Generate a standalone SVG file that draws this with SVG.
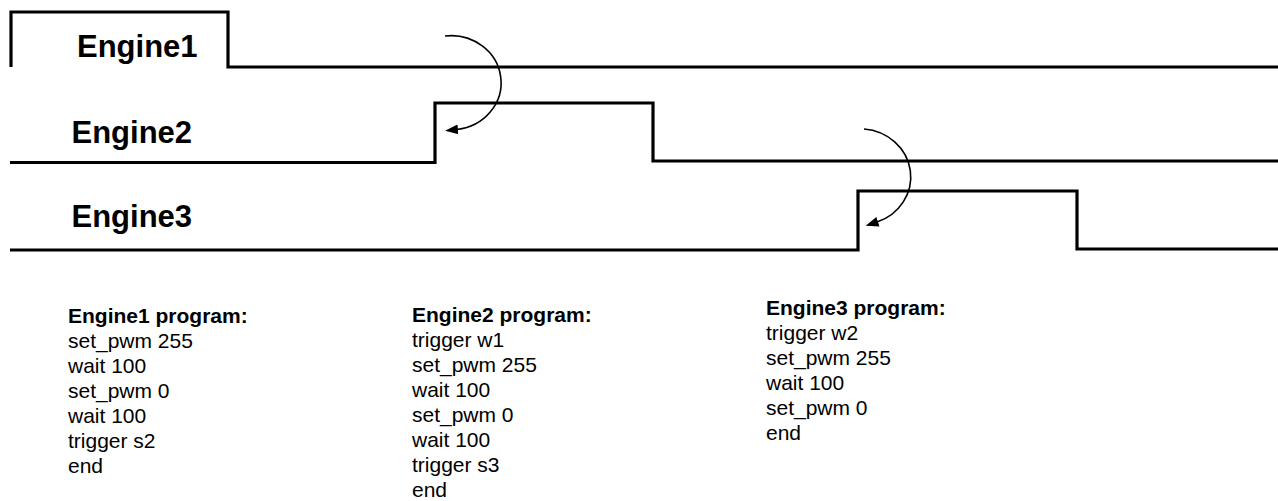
<svg xmlns="http://www.w3.org/2000/svg" width="1278" height="501" viewBox="0 0 1278 501">
  <style>
    .wave { fill: none; stroke: #000; stroke-width: 3.2; stroke-linejoin: miter; }
    .label { font-family: "Liberation Sans", Arial, sans-serif; font-weight: bold; font-size: 31px; fill: #000; }
    .prog { font-family: "Liberation Sans", Arial, sans-serif; font-size: 21px; fill: #000; }
    .prog .hd { font-weight: bold; }
    .conn { fill: none; stroke: #000; stroke-width: 1.6; }
  </style>
  <defs>
    <marker id="arrow" markerUnits="userSpaceOnUse" markerWidth="14" markerHeight="12" refX="1" refY="6" orient="auto" viewBox="0 0 14 12">
      <path d="M0,1 L13,6 L0,11 z" fill="#000"/>
    </marker>
  </defs>
  <rect width="1278" height="501" fill="#fff"/>

  <g id="engine1">
    <path class="wave" d="M11,67 V12 H228 V67 H1278"/>
    <text class="label" x="77" y="57.3" font-size="30.5">Engine1</text>
  </g>
  <g id="engine2">
    <path class="wave" d="M10,162.5 H435 V103 H653 V161 H1278"/>
    <text class="label" x="71.5" y="143.3">Engine2</text>
  </g>
  <g id="engine3">
    <path class="wave" d="M10,250 H858 V191 H1077 V249 H1278"/>
    <text class="label" x="71.5" y="226.7">Engine3</text>
  </g>

  <g id="connectors">
    <path class="conn" d="M445,36 A50,47 0 0 1 457,129.5" marker-end="url(#arrow)"/>
    <path class="conn" d="M864,129 A51,48 0 0 1 877,222" marker-end="url(#arrow)"/>
  </g>

  <g id="program1" class="prog">
    <text class="hd" x="68" y="323">Engine1 program:</text>
    <text x="68" y="348">set_pwm 255</text>
    <text x="68" y="373">wait 100</text>
    <text x="68" y="398">set_pwm 0</text>
    <text x="68" y="423">wait 100</text>
    <text x="68" y="448">trigger s2</text>
    <text x="68" y="473">end</text>
  </g>
  <g id="program2" class="prog">
    <text class="hd" x="412" y="322">Engine2 program:</text>
    <text x="412" y="347">trigger w1</text>
    <text x="412" y="372">set_pwm 255</text>
    <text x="412" y="397">wait 100</text>
    <text x="412" y="422">set_pwm 0</text>
    <text x="412" y="447">wait 100</text>
    <text x="412" y="472">trigger s3</text>
    <text x="412" y="497">end</text>
  </g>
  <g id="program3" class="prog">
    <text class="hd" x="766" y="315">Engine3 program:</text>
    <text x="766" y="340">trigger w2</text>
    <text x="766" y="365">set_pwm 255</text>
    <text x="766" y="390">wait 100</text>
    <text x="766" y="415">set_pwm 0</text>
    <text x="766" y="440">end</text>
  </g>
</svg>
